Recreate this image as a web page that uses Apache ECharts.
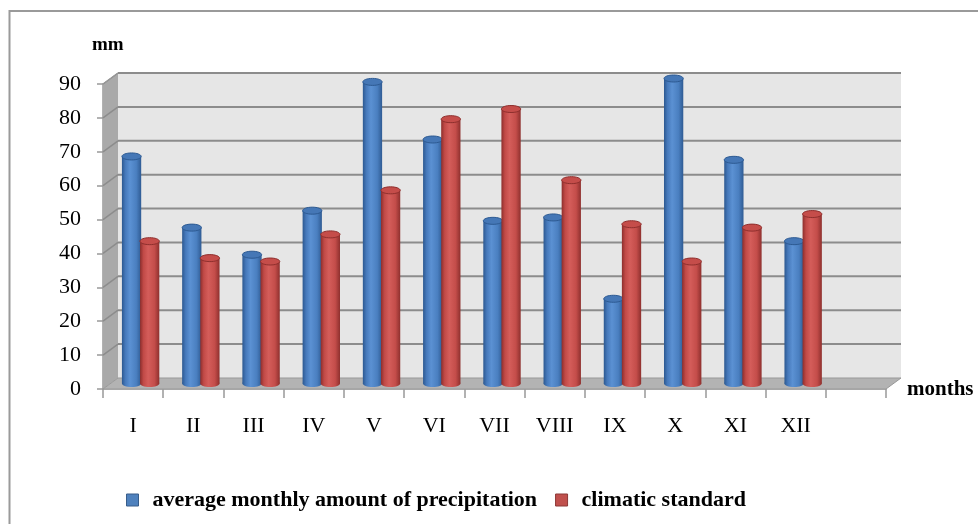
<!DOCTYPE html>
<html>
<head>
<meta charset="utf-8">
<script src="https://cdn.jsdelivr.net/npm/echarts@6/dist/echarts.min.js"></script>
<style>
  html, body { margin: 0; padding: 0; background: #fff; }
  #chart { width: 978px; height: 524px; }
</style>
</head>
<body>
<div id="chart"></div>
<script>
// Monthly precipitation vs. climatic standard (mm)
var months = ['I', 'II', 'III', 'IV', 'V', 'VI', 'VII', 'VIII', 'IX', 'X', 'XI', 'XII', ''];
var precipitation = [67, 46, 38, 51, 89, 72, 48, 49, 25, 90, 66, 42];
var climaticStandard = [42, 37, 36, 44, 57, 78, 81, 60, 47, 36, 46, 50];
var yTicks = [0, 10, 20, 30, 40, 50, 60, 70, 80, 90];
var seriesNames = ['average monthly amount of precipitation', 'climatic standard'];

var SERIF = '"Liberation Serif", "Times New Roman", serif';
var DEPTH_X = 15, DEPTH_Y = 11;

var palettes = [
  { base: '#4f81bd', cap: '#4577b6', capEdge: '#2d5a92',
    stops: ['#2c5890', '#4679bb', '#5b91d3', '#4a7fc0', '#2f5b93'] },
  { base: '#c0504d', cap: '#c54d4a', capEdge: '#8e2f2d',
    stops: ['#8c2e2c', '#c14a47', '#d45d5a', '#c44d4a', '#8e302e'] }
];

function bodyGradient(p) {
  return new echarts.graphic.LinearGradient(0, 0, 1, 0, [
    { offset: 0, color: p.stops[0] },
    { offset: 0.18, color: p.stops[1] },
    { offset: 0.42, color: p.stops[2] },
    { offset: 0.75, color: p.stops[3] },
    { offset: 1, color: p.stops[4] }
  ]);
}

// Cylinders standing at mid-depth of the 3D box
function cylinderRenderer(seriesIdx) {
  return function (params, api) {
    var i = api.value(0);
    var v = api.value(1);
    var slot = api.size([1, 0])[0];
    var base = api.coord([i, 0]);
    var top = api.coord([i, v]);
    var barW = slot * 0.32;
    var cx = base[0] + DEPTH_X / 2 + (seriesIdx === 0 ? -1 : 1) * barW * 0.47;
    var dy = -DEPTH_Y / 2;
    var yb = base[1] + dy, yt = top[1] + dy;
    var ry = 3.5;
    var p = palettes[seriesIdx];
    var grad = bodyGradient(p);
    return {
      type: 'group',
      children: [
        { type: 'ellipse', shape: { cx: cx, cy: yb, rx: barW / 2, ry: ry }, style: { fill: grad } },
        { type: 'rect', shape: { x: cx - barW / 2, y: yt, width: barW, height: yb - yt }, style: { fill: grad } },
        { type: 'ellipse', shape: { cx: cx, cy: yt, rx: barW / 2, ry: ry },
          style: { fill: p.cap, stroke: p.capEdge, lineWidth: 1 } }
      ]
    };
  };
}

// Back wall, side wall and floor of the box
function frameRenderer(params, api) {
  var cs = params.coordSys;
  var x0 = cs.x, y0 = cs.y, w = cs.width, h = cs.height;
  var bx = x0 + DEPTH_X, by = y0 - DEPTH_Y;
  var kids = [];
  kids.push({ type: 'rect', shape: { x: bx, y: by, width: w, height: h }, style: { fill: '#e6e6e6' } });
  kids.push({ type: 'polygon', shape: { points: [[x0, y0], [bx, by], [bx, by + h], [x0, y0 + h]] },
    style: { fill: '#a9a9a9' } });
  yTicks.forEach(function (t) {
    var yy = api.coord([0, t])[1];
    if (t > 0) {
      kids.push({ type: 'line', shape: { x1: bx, y1: yy - DEPTH_Y, x2: bx + w, y2: yy - DEPTH_Y },
        style: { stroke: '#8c8c8c', lineWidth: 2 } });
      kids.push({ type: 'line', shape: { x1: x0, y1: yy, x2: bx, y2: yy - DEPTH_Y },
        style: { stroke: '#8c8c8c', lineWidth: 1.5 } });
    }
  });
  kids.push({ type: 'polygon',
    shape: { points: [[x0, y0 + h], [bx, by + h], [bx + w, by + h], [x0 + w, y0 + h]] },
    style: { fill: '#b3b3b3', stroke: '#999', lineWidth: 1 } });
  kids.push({ type: 'line', shape: { x1: x0, y1: y0, x2: bx, y2: by }, style: { stroke: '#999', lineWidth: 1 } });
  return { type: 'group', children: kids };
}

var chart = echarts.init(document.getElementById('chart'));
chart.setOption({
  backgroundColor: '#ffffff',
  animation: false,
  textStyle: { fontFamily: SERIF },
  grid: { left: 103, top: 84, width: 783, height: 305, containLabel: false },
  legend: {
    left: 121, top: 484,
    itemWidth: 12, itemHeight: 12, itemGap: 18,
    icon: 'rect',
    textStyle: { fontFamily: SERIF, fontWeight: 'bold', fontSize: 22, color: '#000', padding: [0, 0, 0, 9] },
    data: [
      { name: seriesNames[0], itemStyle: { color: '#4f81bd', borderColor: '#385d8a', borderWidth: 1 } },
      { name: seriesNames[1], itemStyle: { color: '#c0504d', borderColor: '#8c3836', borderWidth: 1 } }
    ]
  },
  xAxis: {
    type: 'category',
    data: months,
    boundaryGap: true,
    axisLine: { lineStyle: { color: '#999', width: 1.5 } },
    axisTick: { show: true, length: 9, lineStyle: { color: '#999', width: 1.5 } },
    axisLabel: { color: '#000', fontSize: 22, fontFamily: SERIF, margin: 26 },
    splitLine: { show: false }
  },
  yAxis: {
    type: 'value',
    min: 0, max: 90, interval: 10,
    axisLine: { show: true, lineStyle: { color: '#999', width: 1.5 } },
    axisTick: { show: true, length: 6, lineStyle: { color: '#999', width: 1.5 } },
    axisLabel: { color: '#000', fontSize: 22, fontFamily: SERIF, margin: 22 },
    splitLine: { show: false }
  },
  graphic: [
    { type: 'polyline', shape: { points: [[9.5, 524], [9.5, 11], [978, 11]] },
      style: { stroke: '#9a9a9a', lineWidth: 2, fill: null }, silent: true },
    { type: 'text', left: 92, top: 36,
      style: { text: 'mm', font: 'bold 19px ' + SERIF, fill: '#000' } },
    { type: 'text', left: 907, top: 379,
      style: { text: 'months', font: 'bold 21px ' + SERIF, fill: '#000' } }
  ],
  series: [
    {
      type: 'custom', name: 'frame', silent: true, clip: false, z: 1,
      renderItem: frameRenderer, data: [[0, 0]]
    },
    {
      type: 'custom', name: seriesNames[0], z: 3, clip: false,
      itemStyle: { color: '#4f81bd' },
      renderItem: cylinderRenderer(0),
      encode: { x: 0, y: 1 },
      data: precipitation.map(function (v, i) { return [i, v]; })
    },
    {
      type: 'custom', name: seriesNames[1], z: 4, clip: false,
      itemStyle: { color: '#c0504d' },
      renderItem: cylinderRenderer(1),
      encode: { x: 0, y: 1 },
      data: climaticStandard.map(function (v, i) { return [i, v]; })
    }
  ]
});
</script>
</body>
</html>
